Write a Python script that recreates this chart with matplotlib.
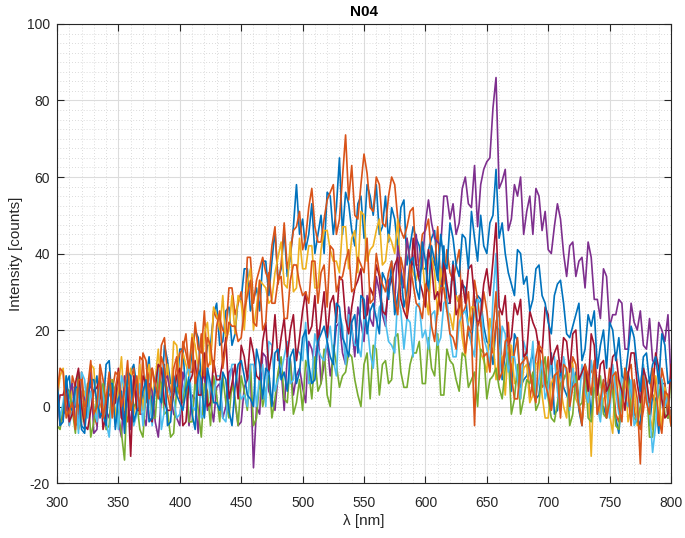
import numpy as np
import matplotlib
matplotlib.use("Agg")
from matplotlib import pyplot as plt
from matplotlib.ticker import MultipleLocator

# wavelength grid of the read-off values [nm], 2.5 nm apart
wavelength = np.linspace(300, 800, 201)

# intensities (counts), one list per spectrum
blue_a = [5, -4, -3, 6, 8, -1, 0, 9, -5, -6, 6, 5, 4, 8, -3, -1, 11, 12, 0, 2,
          5, -3, -4, 7, 9, 11, 5, 0, 1, 7, 13, -2, 6, 11, 1, 16, 12, 6, 6, 3,
          15, 15, 3, 8, 14, 20, 18, 7, 10, 16, 16, 24, 27, 16, 17, 25, 26, 16, 19, 28,
          28, 36, 36, 25, 28, 31, 25, 38, 38, 29, 38, 46, 33, 36, 46, 34, 39, 47, 58, 45,
          49, 41, 45, 53, 40, 45, 50, 40, 56, 55, 45, 52, 65, 45, 56, 53, 46, 42, 53, 55,
          44, 58, 55, 50, 58, 45, 47, 55, 43, 52, 49, 41, 52, 54, 37, 42, 47, 44, 42, 36,
          36, 41, 44, 46, 34, 31, 42, 27, 27, 38, 29, 27, 32, 31, 19, 17, 26, 29, 28, 21,
          17, 16, 11, 21, 20, 7, 14, 16, 4, 19, 17, 5, 7, 8, 11, 14, 2, 3, 10, 8,
          5, 14, -2, -1, 10, 5, 3, 1, 6, 9, -1, -5, 11, 7, -3, 10, 5, 0, 0, -3,
          7, 5, -3, -7, 3, 8, 9, 4, -2, -3, -5, 9, 5, -5, 3, 2, -7, 6, 6, -3,
          -1]

orange_a = [9, -5, -2, 3, -5, 8, 5, -2, 9, 0, 2, 10, -2, -5, 11, 7, 1, 3, 4, 9,
            8, 3, -1, -4, 7, 10, -2, 13, 12, 1, 9, 10, 4, 5, 16, 18, 8, 4, 4, 11,
            14, 15, 19, 9, 9, 22, 15, 14, 25, 10, 12, 25, 23, 23, 20, 19, 31, 31, 24, 27,
            30, 22, 39, 39, 27, 33, 36, 39, 35, 33, 42, 47, 32, 37, 48, 36, 40, 46, 47, 51,
            41, 44, 52, 57, 47, 43, 43, 49, 54, 56, 58, 45, 49, 60, 71, 54, 63, 50, 49, 58,
            66, 61, 52, 51, 60, 58, 48, 47, 55, 60, 58, 49, 46, 44, 47, 51, 52, 37, 37, 45,
            46, 49, 39, 37, 47, 32, 32, 41, 35, 33, 37, 41, 24, 26, 30, 20, 33, 28, 21, 30,
            25, 17, 14, 22, 25, 10, 14, 22, 9, 14, 18, 6, 12, 15, 2, 7, 13, 17, 5, 6,
            13, -1, 6, 12, -1, 7, 9, 2, 13, 11, 1, -4, 3, 8, 9, 11, -2, -1, 6, 3,
            10, 7, -2, -4, 3, 5, 9, 11, -1, -4, -6, -1, 6, 7, 3, 0, -5, 10, 6, -3,
            -1]

yellow = [1, 8, 10, -2, -2, 5, 5, -6, -4, 4, 3, 11, 10, -2, 0, 2, -5, 7, 7, -3,
          5, 13, -1, 1, 10, -2, 3, 11, -1, 7, 11, 3, 7, 15, 2, 6, 11, 1, 17, 16,
          6, 14, 11, 8, 19, 16, 10, 7, 19, 22, 11, 26, 24, 20, 29, 17, 20, 29, 19, 29,
          27, 20, 32, 36, 20, 26, 33, 32, 31, 27, 28, 35, 39, 43, 32, 31, 43, 30, 31, 44,
          36, 36, 42, 42, 31, 31, 41, 46, 46, 41, 38, 38, 35, 47, 47, 36, 44, 46, 35, 51,
          50, 38, 41, 42, 46, 49, 37, 38, 45, 43, 40, 49, 32, 33, 44, 38, 35, 33, 37, 39,
          29, 24, 39, 35, 24, 36, 31, 25, 24, 20, 29, 27, 18, 13, 22, 26, 26, 20, 14, 12,
          9, 23, 18, 7, 14, 13, 3, 16, 16, 6, 7, 2, 10, 11, 1, 3, 11, 12, 3, -3,
          -3, 6, 8, 9, 5, 0, -3, 12, 11, 2, 0, -4, 5, 6, -13, 9, 7, -3, 2, 3,
          -2, -7, 9, 6, 1, 10, -4, 0, 5, -5, -1, 6, 7, -2, -6, 8, 3, -6, 5, 0,
          -5]

purple = [7, -5, -2, -1, 3, 6, -5, -4, 4, 2, 0, 9, -7, -6, 6, 1, -1, -3, 2, 5,
          -4, -8, 8, 4, -6, 7, 3, -2, -2, -5, 6, 4, -4, -8, 2, 7, 8, 3, -2, -3,
          -5, 9, 5, -5, 3, 2, -7, 7, 8, -1, 1, -4, 5, 6, -3, 0, 9, 10, 1, -5,
          -4, 5, 7, 9, -16, 0, -2, 14, 13, 4, 2, -1, 8, 10, -1, 13, 12, 3, 8, 10,
          5, 1, 17, 15, 10, 20, 6, 11, 17, 8, 13, 21, 22, 14, 11, 26, 21, 13, 26, 22,
          17, 29, 23, 21, 34, 30, 24, 21, 33, 34, 27, 42, 36, 31, 44, 38, 37, 45, 34, 37,
          48, 54, 48, 44, 43, 42, 55, 55, 49, 53, 45, 48, 57, 60, 53, 52, 63, 47, 58, 62,
          64, 65, 78, 86, 57, 59, 62, 46, 49, 58, 55, 60, 45, 51, 55, 45, 57, 55, 46, 51,
          41, 40, 47, 53, 49, 40, 34, 42, 43, 34, 38, 39, 31, 43, 39, 28, 28, 23, 36, 34,
          21, 24, 24, 28, 27, 15, 15, 27, 22, 20, 25, 16, 15, 23, 12, 11, 22, 20, 17, 24,
          7]

green = [-5, -6, 0, 5, 4, -1, -7, 9, 1, -4, 6, -8, -4, 2, 2, 6, -6, -5, 7, 3,
         -2, -7, -14, 7, 5, 0, 1, -6, -8, 4, 4, -3, -3, 8, 6, -2, -1, -8, -7, 5,
         3, 1, 8, -4, -4, 7, -1, -8, 6, 4, -5, 8, 3, -4, 8, 1, -3, 6, 2, -5,
         8, 4, -1, 11, -5, -3, 7, 0, 4, 8, -3, 2, 9, 13, 2, 1, 12, -2, 1, 7,
         -1, 12, 9, 2, 13, 4, 6, 15, 3, 0, 16, 11, 5, 8, 9, 14, 13, 7, 3, 0,
         11, 14, 2, 16, 15, 3, 11, 12, 6, 7, 18, 19, 9, 5, 5, 11, 14, 14, 17, 6,
         6, 18, 10, 8, 19, 3, 3, 15, 12, 11, 7, 4, 14, 13, 5, 7, 9, 0, 15, 14,
         2, 7, 8, 10, 5, 2, 10, 14, -2, 2, 11, -2, 2, 7, 6, 9, -1, 1, 9, 13,
         2, -3, -4, 1, 6, 7, 9, -5, -2, 8, 0, 1, 10, -3, -4, 5, 3, 8, -2, -3,
         6, 4, -5, -6, 3, 9, 8, -1, -3, -4, 0, 5, 7, -8, -8, 1, 3, 7, -2, -3,
         8]

light_blue = [6, -3, 1, 8, -5, -1, 4, -7, 9, 7, -3, 4, 0, -4, 7, 3, -4, -8, 3, 5,
              -6, 8, 5, 0, 8, -5, -2, 6, -5, 5, 3, -5, 7, 10, -6, -1, 5, 3, 2, -3,
              -2, 4, 8, 11, 0, -1, 11, -3, -2, 10, 2, 2, 8, 8, -3, -4, 6, 11, 11, 5,
              2, 3, 0, 11, 11, 0, 8, 11, 0, 17, 16, 4, 7, 9, 13, 17, 6, 7, 15, 14,
              12, 22, 6, 7, 19, 15, 13, 12, 17, 21, 12, 8, 24, 21, 11, 24, 20, 16, 16, 13,
              23, 22, 14, 10, 20, 26, 27, 22, 17, 16, 14, 29, 25, 15, 23, 22, 13, 26, 27, 18,
              20, 15, 24, 25, 16, 18, 27, 28, 19, 13, 13, 22, 24, 25, 21, 16, 13, 28, 27, 18,
              15, 11, 28, 40, 7, 21, 19, 9, 13, 13, 7, 2, 17, 14, 8, 17, 3, 7, 12, 2,
              5, 12, 13, 4, -1, 13, 8, -1, 10, 5, 0, 11, 4, 1, 12, 7, 0, -4, 7, 6,
              -3, 11, 4, -2, 10, 2, 0, 7, -5, -3, 6, 11, 4, -1, -12, -5, 8, 7, 0, 3,
              -5]

dark_red = [-2, 3, 3, 6, -4, -2, 6, 10, 0, -5, -6, -1, 4, 5, 7, -6, -2, 8, 0, 1,
            10, -3, -4, 5, -13, 8, -1, -1, 8, 6, -3, -4, 5, 11, 10, 1, -1, -1, 3, 8,
            10, -5, -4, 6, 8, 12, 3, 3, 14, 0, 1, 12, 7, 7, 12, 18, 2, 6, 11, 2,
            16, 13, 7, 18, 14, 8, 7, 17, 22, 9, 14, 24, 12, 18, 23, 13, 20, 24, 12, 18,
            25, 30, 19, 21, 29, 16, 23, 30, 18, 27, 29, 22, 34, 33, 23, 19, 26, 31, 33, 36,
            23, 24, 31, 29, 37, 34, 25, 24, 31, 33, 37, 39, 28, 25, 23, 29, 44, 37, 33, 30,
            26, 41, 37, 28, 30, 25, 38, 32, 27, 37, 24, 26, 33, 27, 36, 37, 28, 21, 24, 32,
            36, 29, 38, 48, 26, 24, 29, 16, 18, 27, 24, 28, 13, 14, 25, 22, 20, 15, 14, 26,
            24, 11, 14, 16, 9, 18, 17, 9, 19, 20, 7, 9, 11, 4, 19, 16, 3, 11, 12, 4,
            6, 13, 14, 7, 4, -1, 8, 14, 14, 6, 1, 10, 7, 1, 4, 14, 10, 2, -3, -2,
            11]

blue_b = [9, -5, -4, 8, 0, -1, 5, 5, -6, -7, 3, 7, 7, 1, -2, -2, -5, 6, 6, -6,
          2, 4, -7, 9, 8, -4, -1, 0, 4, 7, -4, -3, 5, 3, 1, 11, -5, -4, 8, 3,
          1, -1, 4, 7, -2, -6, 10, 7, -3, 10, 6, 1, 1, -1, 9, 7, -1, -5, 5, 11,
          12, 8, 3, 2, 0, 15, 11, 2, 10, 9, 0, 14, 15, 7, 9, 4, 13, 15, 6, 9,
          18, 20, 11, 6, 7, 17, 19, 21, 17, 13, 11, 27, 26, 18, 16, 13, 22, 24, 14, 29,
          28, 19, 25, 27, 23, 19, 35, 33, 28, 38, 24, 29, 35, 26, 30, 38, 39, 31, 28, 43,
          38, 30, 42, 38, 33, 45, 38, 36, 48, 44, 37, 34, 45, 44, 36, 51, 44, 38, 50, 42,
          40, 48, 50, 62, 44, 48, 40, 35, 32, 29, 41, 40, 32, 34, 25, 28, 36, 37, 29, 27,
          22, 19, 29, 32, 33, 27, 19, 18, 21, 24, 27, 12, 15, 24, 21, 25, 10, 16, 20, 10,
          22, 20, 12, 18, 8, 7, 14, 21, 18, 10, 4, 13, 14, 6, 11, 13, 6, 19, 16, 6,
          7]

orange_b = [3, 10, 9, -3, -1, 1, -6, 7, 7, -3, 5, 12, -2, 0, 9, -3, 2, 9, -3, 5,
            9, 0, 4, 12, -1, 3, 8, -2, 14, 12, 2, 10, 6, 2, 13, 10, 3, -1, 10, 13,
            2, 17, 14, 10, 18, 6, 10, 19, 8, 18, 16, 9, 21, 25, 10, 16, 22, 21, 21, 17,
            18, 25, 29, 33, 22, 21, 33, 20, 22, 35, 27, 27, 33, 34, 23, 23, 33, 37, 37, 32,
            29, 30, 27, 38, 38, 27, 35, 37, 26, 42, 41, 30, 33, 34, 38, 41, 30, 31, 39, 37,
            35, 44, 27, 28, 40, 35, 32, 30, 35, 38, 28, 24, 39, 35, 24, 37, 32, 27, 26, 23,
            32, 30, 21, 17, 26, 31, 31, 25, 19, 18, 15, 29, 24, 14, 21, 19, -5, 22, 22, 13,
            14, 9, 20, 30, 7, 9, 17, 18, 8, 2, 2, 11, 12, 13, 9, 4, 1, 16, 15, 6,
            3, -1, 8, 9, -3, 11, 10, 0, 5, 6, 0, -5, 11, 8, 3, 12, -2, 2, 7, -3,
            1, 8, 9, 0, -4, 10, 4, -5, 7, 2, -15, 8, 1, -2, 10, 5, -3, -7, 4, 3,
            -5]

# matlab default colour order
spectra = [
    (blue_a, '#0072BD'),
    (orange_a, '#D95319'),
    (yellow, '#EDB120'),
    (purple, '#7E2F8E'),
    (green, '#77AC30'),
    (light_blue, '#4DBEEE'),
    (dark_red, '#A2142F'),
    (blue_b, '#0072BD'),
    (orange_b, '#D95319'),
]

plt.rcParams['font.family'] = ['Liberation Sans', 'DejaVu Sans']
plt.rcParams['axes.unicode_minus'] = False

fig = plt.figure(figsize=(6.85, 5.38), dpi=100)
ax = fig.add_axes([0.0832, 0.1022, 0.8964, 0.8532])

for y, c in spectra:
    ax.plot(wavelength, y, color=c, linewidth=1.2)

ax.set_xlim(300, 800)
ax.set_ylim(-20, 100)
ax.xaxis.set_major_locator(MultipleLocator(50))
ax.xaxis.set_minor_locator(MultipleLocator(10))
ax.yaxis.set_major_locator(MultipleLocator(20))
ax.yaxis.set_minor_locator(MultipleLocator(2.5))

ax.set_axisbelow(True)
ax.grid(which='major', color='#dcdcdc', linewidth=0.8)
ax.grid(which='minor', color='#cfcfcf', linewidth=0.6, linestyle=(0, (1, 2.5)))

ax.tick_params(which='both', direction='in', top=True, right=True,
               colors='#262626', labelsize=10)
ax.tick_params(which='major', length=5, width=0.8)
ax.tick_params(which='minor', length=0)
ax.tick_params(axis='x', pad=9)
ax.tick_params(axis='y', pad=5)
for sp in ax.spines.values():
    sp.set_color('#262626')
    sp.set_linewidth(0.8)

ax.set_xlabel('λ [nm]', fontsize=11, color='#262626', labelpad=3)
ax.set_ylabel('Intensity [counts]', fontsize=11, color='#262626', labelpad=3)
ax.set_title('N04', fontsize=11, fontweight='bold', color='black', pad=6)

fig.savefig('out.png', dpi=100)
